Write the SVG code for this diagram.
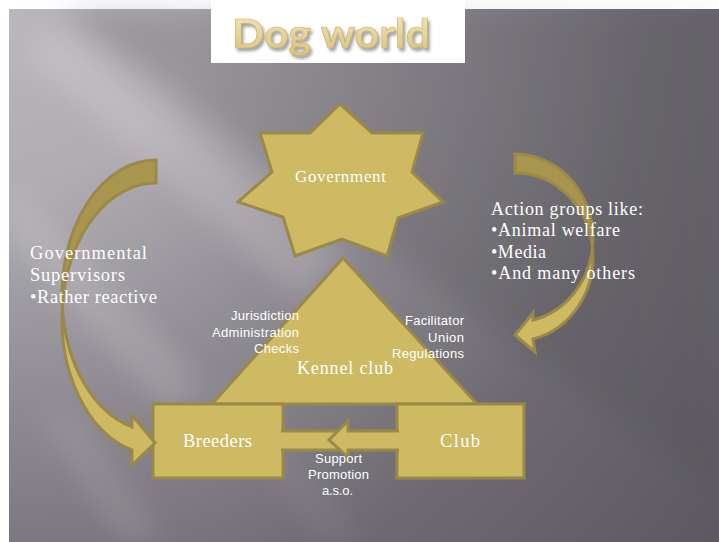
<svg xmlns="http://www.w3.org/2000/svg" width="719" height="542" viewBox="0 0 719 542">
  <defs>
    <style>
      .gold { fill: #CEBA62; stroke: #9A8948; stroke-width: 3; stroke-linejoin: miter; }
      .goldDark { fill: #A8964F; stroke: #9A8948; stroke-width: 3; stroke-linejoin: miter; }
      .serif { font-family: "Liberation Serif", "DejaVu Serif", serif; fill: #FFFFFF; }
      .sans { font-family: "Liberation Sans", Arial, sans-serif; fill: #FFFFFF; font-size: 13px; }
      .ray { fill: #FFFFFF; filter: url(#soft); }
    </style>
    <radialGradient id="bgGrad" gradientUnits="userSpaceOnUse" cx="0" cy="0" r="950">
      <stop offset="0" stop-color="#BAB7BD"/>
      <stop offset="0.2" stop-color="#AFACB2"/>
      <stop offset="0.42" stop-color="#8F8C93"/>
      <stop offset="0.68" stop-color="#6D6B71"/>
      <stop offset="1" stop-color="#58565C"/>
    </radialGradient>
    <linearGradient id="shadeGrad" gradientUnits="userSpaceOnUse" x1="60" y1="0" x2="719" y2="0">
      <stop offset="0" stop-color="#000" stop-opacity="0.15"/>
      <stop offset="1" stop-color="#000" stop-opacity="0.04"/>
    </linearGradient>
    <linearGradient id="titleGrad" x1="0" y1="0" x2="0" y2="1">
      <stop offset="0" stop-color="#F6EBBE"/>
      <stop offset="1" stop-color="#D8C07A"/>
    </linearGradient>
    <filter id="soft" x="-20%" y="-20%" width="140%" height="140%">
      <feGaussianBlur stdDeviation="14"/>
    </filter>
    <filter id="titleShadow" x="-10%" y="-20%" width="130%" height="160%">
      <feDropShadow dx="2" dy="3" stdDeviation="1.5" flood-color="#7A7A7A" flood-opacity="0.7"/>
    </filter>
  </defs>

  <!-- page and slide background -->
  <rect x="0" y="0" width="719" height="542" fill="#FFFFFF"/>
  <g id="background">
    <rect x="9" y="9" width="710" height="533" fill="url(#bgGrad)"/>
    <polygon points="60,9 719,9 719,492" fill="url(#shadeGrad)" filter="url(#soft)"/>
    <polygon class="ray" points="20,50 60,30 345,255 300,300" opacity="0.16"/>
    <polygon class="ray" points="9,180 9,240 175,420 200,380" opacity="0.14"/>
    <polygon class="ray" points="40,415 75,415 165,542 120,542" opacity="0.1"/>
    <polygon class="ray" points="200,385 235,385 365,542 325,542" opacity="0.06"/>
  </g>

  <!-- title -->
  <g id="title">
    <rect x="211" y="0" width="254" height="63" fill="#FFFFFF"/>
    <text x="232" y="48" font-family="Lato, 'Liberation Sans', sans-serif" font-weight="bold" font-size="41" textLength="198" lengthAdjust="spacingAndGlyphs" fill="url(#titleGrad)" stroke="#C9B06A" stroke-width="0.6" filter="url(#titleShadow)">Dog world</text>
  </g>

  <!-- government star -->
  <g id="government">
    <polygon class="gold" points="340,104 372,133 423,133 412,172 443,202 398,218 387,256 342,239 295,256 283,217 238,202 272,172 260,133 310,133"/>
    <text class="serif" x="295" y="182" font-size="17" textLength="91">Government</text>
  </g>

  <!-- kennel club triangle -->
  <g id="kennel-club">
    <polygon class="gold" points="343,258 477,404 212,404"/>
    <text class="serif" x="297" y="374" font-size="18" textLength="96">Kennel club</text>
  </g>

  <!-- breeders box -->
  <g id="breeders">
    <rect class="gold" x="153" y="404" width="130" height="74"/>
    <text class="serif" x="183" y="447" font-size="18.5" textLength="69">Breeders</text>
  </g>

  <!-- club box -->
  <g id="club">
    <rect class="gold" x="397" y="404" width="127" height="74"/>
    <text class="serif" x="440" y="447" font-size="18.5" textLength="40">Club</text>
  </g>

  <!-- connectors -->
  <g id="connectors">
    <!-- government to breeders: curved arrow on the left -->
    <path class="goldDark" d="M156,160 A94,135.7 0 0 0 62.3,307.2 A94,135.7 0 0 1 156,183 Z"/>
    <path class="gold" d="M62.3,307.2 A94,135.7 0 0 0 132,450 L132,465 L155,443 L132,415 L132,427 A94,135.7 0 0 1 62.3,307.2 Z"/>
    <!-- action groups to kennel club: curved arrow on the right -->
    <path class="goldDark" d="M515,154 A78,84.1 0 0 1 592.5,247.6 A78,84.1 0 0 0 515,173 Z"/>
    <path class="gold" d="M592.5,247.6 A78,84.1 0 0 1 533,339 L535,352 L515,335 L533,313 L533,320 A78,84.1 0 0 0 592.5,247.6 Z"/>
    <!-- breeders / club link -->
    <path class="gold" d="M281,431 H346 V450 H281"/>
    <path class="gold" d="M399,431 H348 V421 L329,440 L348,457 V450 H399"/>
  </g>

  <!-- annotations -->
  <g id="supervisors-label" class="serif" font-size="18.5">
    <text x="30" y="259" textLength="117">Governmental</text>
    <text x="30" y="281" textLength="95">Supervisors</text>
    <text x="30" y="303" textLength="127">•Rather reactive</text>
  </g>
  <g id="action-groups-label" class="serif" font-size="18">
    <text x="491" y="215" textLength="152">Action groups like:</text>
    <text x="491" y="236" textLength="129">•Animal welfare</text>
    <text x="491" y="258" textLength="55">•Media</text>
    <text x="491" y="279" textLength="144">•And many others</text>
  </g>
  <g id="kennel-left-label" class="sans">
    <text x="231" y="320" textLength="68">Jurisdiction</text>
    <text x="212" y="337" textLength="87">Administration</text>
    <text x="254" y="353" textLength="45">Checks</text>
  </g>
  <g id="kennel-right-label" class="sans">
    <text x="405" y="325" textLength="59">Facilitator</text>
    <text x="428" y="342" textLength="36">Union</text>
    <text x="392" y="358" textLength="72">Regulations</text>
  </g>
  <g id="link-label" class="sans">
    <text x="315" y="463" textLength="47">Support</text>
    <text x="308" y="479" textLength="61">Promotion</text>
    <text x="322" y="495" textLength="31">a.s.o.</text>
  </g>
</svg>
